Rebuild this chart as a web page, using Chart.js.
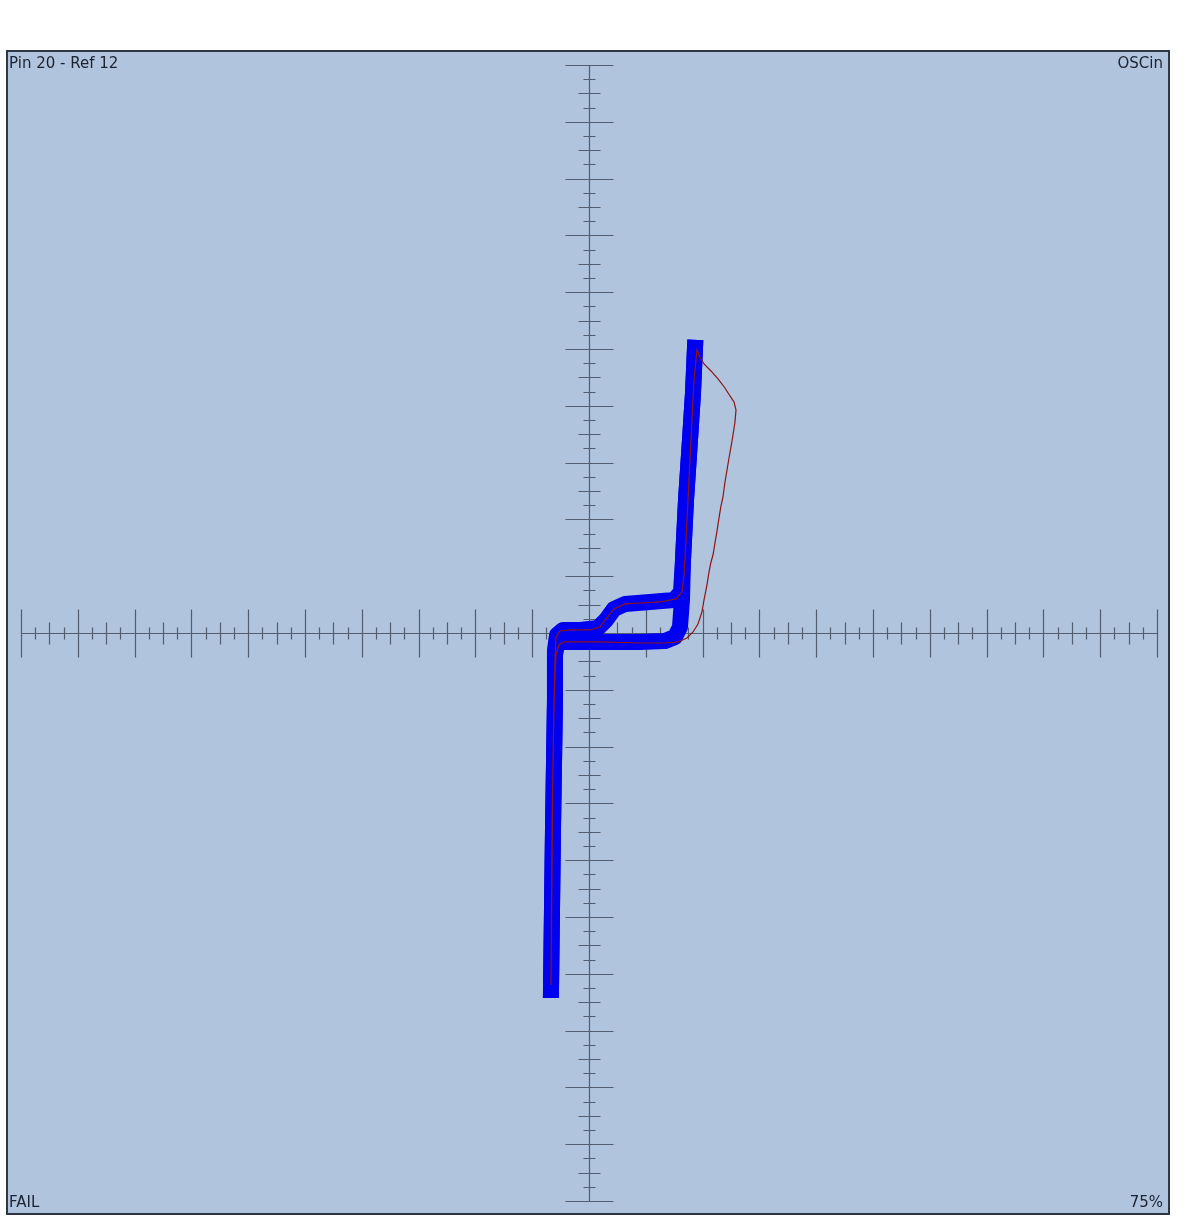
<!DOCTYPE html>
<html>
<head>
<meta charset="utf-8">
<script src="https://cdn.jsdelivr.net/npm/chart.js@4/dist/chart.umd.min.js"></script>
<style>
  html, body { margin: 0; padding: 0; background: #ffffff; }
  #wrap { position: relative; width: 1192px; height: 1227px; }
  #c { position: absolute; left: 0; top: 0; }
  .lbl { position: absolute; font-family: "DejaVu Sans", Verdana, sans-serif; font-size: 15px; line-height: 15px; color: #1c2230; white-space: nowrap; }
</style>
</head>
<body>
<div id="wrap">
  <canvas id="c" width="1192" height="1227"></canvas>
  <div class="lbl" id="tl" style="left:9px; top:56px;"></div>
  <div class="lbl" id="tr" style="right:29px; top:56px; text-align:right;"></div>
  <div class="lbl" id="bl" style="left:9px; top:1195px;"></div>
  <div class="lbl" id="br" style="right:29px; top:1195px; text-align:right;"></div>
</div>
<script>
// ---- Labels ----
const titleLeft = "Pin 20 - Ref 12";
const titleRight = "OSCin";
const statusLeft = "FAIL";
const statusRight = "75%";

// ---- Axis extents (divisions) ----
const axisMin = -10;
const axisMax = 10;
const tickStep = 0.25;

// ---- Reference trace (blue, thick): rising part (bottom -> lower branch -> top) ----
const refUpX = [-0.669, -0.634, -0.599, -0.599, -0.563, -0.475, 0.194, 0.898, 1.338, 1.514, 1.602, 1.637, 1.655, 1.708, 1.778, 1.831, 1.866];
const refUpY = [-6.285, -3.468, -1.180, -0.387, -0.211, -0.158, -0.158, -0.158, -0.141, -0.070, 0.106, 0.581, 1.285, 2.342, 3.398, 4.225, 5.018];
// ---- Reference trace (blue, thick): falling part (top -> upper branch -> bottom) ----
const refDownX = [1.866, 1.831, 1.778, 1.708, 1.655, 1.620, 1.496, 1.074, 0.634, 0.440, 0.299, 0.158, -0.158, -0.458, -0.563, -0.599, -0.599, -0.634, -0.669];
const refDownY = [5.018, 4.225, 3.398, 2.342, 1.285, 0.722, 0.581, 0.546, 0.511, 0.423, 0.229, 0.088, 0.053, 0.053, -0.035, -0.299, -1.180, -3.468, -6.285];

// ---- Measured trace (dark red, thin) ----
const measX = [-0.669, -0.651, -0.616, -0.581, -0.528, -0.440, 0.194, 0.898, 1.338, 1.567, 1.725, 1.831, 1.919, 1.989, 2.025, 2.077, 2.113,
               2.148, 2.183, 2.218, 2.254, 2.289, 2.324, 2.359, 2.394, 2.430, 2.465, 2.500, 2.535, 2.570, 2.588, 2.553, 2.482, 2.394,
               2.271, 2.148, 2.025, 1.954, 1.901, 1.849, 1.813, 1.778, 1.743, 1.708, 1.673, 1.637, 1.532, 1.250, 0.898, 0.634, 0.440,
               0.299, 0.194, 0.018, -0.335, -0.511, -0.581, -0.599, -0.634, -0.669];
const measY = [-6.197, -3.468, -1.180, -0.387, -0.211, -0.158, -0.158, -0.176, -0.176, -0.158, -0.088, 0.018, 0.158, 0.370, 0.581, 0.845, 1.074,
               1.250, 1.373, 1.585, 1.796, 2.025, 2.236, 2.394, 2.658, 2.870, 3.081, 3.275, 3.486, 3.715, 3.926, 4.067, 4.173, 4.313,
               4.472, 4.613, 4.736, 4.859, 4.982, 4.454, 3.750, 3.046, 2.342, 1.637, 1.021, 0.722, 0.599, 0.546, 0.528, 0.511, 0.423,
               0.246, 0.106, 0.053, 0.053, 0.035, -0.070, -0.475, -2.236, -6.197];

const toPts = (xs, ys) => xs.map((x, i) => ({ x: x, y: ys[i] }));

document.getElementById('tl').textContent = titleLeft;
document.getElementById('tr').textContent = titleRight;
document.getElementById('bl').textContent = statusLeft;
document.getElementById('br').textContent = statusRight;

const bgPlugin = {
  id: 'scopeFrame',
  beforeDraw(chart) {
    const { ctx, chartArea: a } = chart;
    ctx.save();
    ctx.fillStyle = '#B0C4DE';
    ctx.fillRect(a.left, a.top, a.right - a.left, a.bottom - a.top);
    ctx.strokeStyle = '#2e3644';
    ctx.lineWidth = 2;
    ctx.strokeRect(a.left, a.top, a.right - a.left, a.bottom - a.top);
    ctx.restore();
  },
  beforeDatasetsDraw(chart) {
    const { ctx } = chart;
    const xs = chart.scales.x, ys = chart.scales.y;
    const x0 = Math.round(xs.getPixelForValue(0)) + 0.5;
    const y0 = Math.round(ys.getPixelForValue(0)) + 0.5;
    ctx.save();
    ctx.strokeStyle = '#535d70';
    ctx.lineWidth = 1.2;
    ctx.beginPath();
    ctx.moveTo(xs.getPixelForValue(axisMin), y0);
    ctx.lineTo(xs.getPixelForValue(axisMax), y0);
    ctx.moveTo(x0, ys.getPixelForValue(axisMax));
    ctx.lineTo(x0, ys.getPixelForValue(axisMin));
    const n = Math.round((axisMax - axisMin) / tickStep);
    for (let i = 0; i <= n; i++) {
      const v = axisMin + i * tickStep;
      const frac = Math.abs(v - Math.round(v));
      let half = 6;
      if (frac < 1e-6) half = 24;
      else if (Math.abs(frac - 0.5) < 1e-6) half = 11;
      const px = Math.round(xs.getPixelForValue(v)) + 0.5;
      ctx.moveTo(px, y0 - half);
      ctx.lineTo(px, y0 + half);
      const py = Math.round(ys.getPixelForValue(v)) + 0.5;
      ctx.moveTo(x0 - half, py);
      ctx.lineTo(x0 + half, py);
    }
    ctx.stroke();
    ctx.restore();
  }
};

const blueStyle = {
  showLine: true,
  borderColor: '#0000F0',
  borderWidth: 16,
  borderCapStyle: 'square',
  borderJoinStyle: 'round',
  pointRadius: 0
};

new Chart(document.getElementById('c'), {
  type: 'scatter',
  data: {
    datasets: [
      {
        label: 'Measured',
        data: toPts(measX, measY),
        showLine: true,
        borderColor: '#8e1414',
        borderWidth: 1.2,
        pointRadius: 0,
        order: 0
      },
      Object.assign({ label: 'Reference', data: toPts(refUpX, refUpY), order: 1 }, blueStyle),
      Object.assign({ label: 'Reference', data: toPts(refDownX, refDownY), order: 2 }, blueStyle)
    ]
  },
  options: {
    responsive: false,
    animation: false,
    devicePixelRatio: 1,
    layout: { padding: { left: 7, top: 51, right: 23, bottom: 13 } },
    plugins: { legend: { display: false }, tooltip: { enabled: false }, title: { display: false } },
    scales: {
      x: { type: 'linear', display: false, min: -10.246, max: 10.211 },
      y: { type: 'linear', display: false, min: -10.229, max: 10.246 }
    }
  },
  plugins: [bgPlugin]
});
</script>
</body>
</html>
